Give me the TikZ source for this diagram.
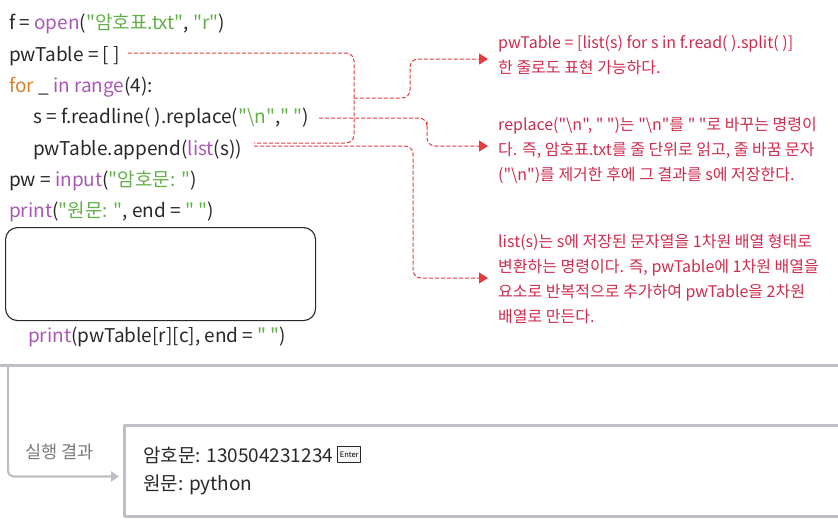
\documentclass[tikz,border=0pt]{standalone}
\usepackage{fontspec}
\setmainfont{Noto Sans CJK KR}[Ligatures=TeXOff]
\usetikzlibrary{arrows.meta,positioning}
\definecolor{codetext}{RGB}{40,40,40}
\definecolor{fncol}{RGB}{168,88,180}
\definecolor{strcol}{RGB}{98,176,72}
\definecolor{kwcol}{RGB}{214,128,48}
\definecolor{notecol}{RGB}{206,44,78}
\definecolor{dashcol}{RGB}{226,60,60}
\definecolor{rulecol}{RGB}{190,190,196}
\definecolor{runcol}{RGB}{120,120,126}
\newcommand{\pyfn}[1]{\textcolor{fncol}{#1}}
\newcommand{\pystr}[1]{\textcolor{strcol}{#1}}
\newcommand{\pykw}[1]{\textcolor{kwcol}{#1}}
\newcommand{\bsn}{\textbackslash n}
\begin{document}
\begin{tikzpicture}[x=1pt, y=-1pt, line join=round, line cap=round, font=\fontsize{19}{24}\selectfont]
	\tikzset{
		codeline/.style={anchor=base west, inner sep=0pt, text=codetext},
		note/.style={anchor=base west, inner sep=0pt, align=left, text=notecol, font=\fontsize{16}{25}\selectfont},
		dashline/.style={draw=dashcol, line width=1pt, dash pattern=on 3.5pt off 2.5pt, rounded corners=8pt},
		dasharrow/.style={dashline, -{Triangle[length=9pt,width=11pt]}},
		runline/.style={draw=rulecol, line width=2.2pt, rounded corners=6pt, -{Triangle[length=8pt,width=10pt]}},
		outbox/.style={draw=rulecol, line width=3pt, anchor=north west, minimum width=717pt, minimum height=91pt, inner sep=0pt},
		outline/.style={anchor=base west, inner sep=0pt, text=codetext, font=\fontsize{19}{22}\selectfont},
	}
	\useasboundingbox (0,0) rectangle (838,520);
	\node[codeline] (fopen) at (9,29.5) {f = \pyfn{open}(\pystr{"암호표.txt"}, \pystr{"r"})};
	\node[codeline] (pwt) at (9,61) {pwTable = [ ]};
	\node[codeline] (loop) at (9,92) {\pykw{for} \_ \pyfn{in} \pyfn{range}(4):};
	\node[codeline] (rep) at (33,123.5) {s = f.readline( ).replace(\pystr{"\bsn"},\pystr{" "})};
	\node[codeline] (app) at (33,155) {pwTable.append(\pyfn{list}(s))};
	\node[codeline] (inp) at (9,186) {pw = \pyfn{input}(\pystr{"암호문: "})};
	\node[codeline] (prt) at (9,217.5) {\pyfn{print}(\pystr{"원문: "}, end = \pystr{" "})};
	\node[draw=codetext, line width=1.1pt, rounded corners=12pt, anchor=north west, minimum width=310pt, minimum height=93pt] (blank) at (5,227) {};
	\node[codeline] (prt2) at (28,342) {\pyfn{print}(pwTable[r][c], end = \pystr{" "})};
	\node[note] (noteA) at (498,73) {pwTable = [list(s) for s in f.read( ).split( )]\\한 줄로도 표현 가능하다.};
	\node[note] (noteB) at (498,180) {replace("\bsn", " ")는 "\bsn"를 " "로 바꾸는 명령이\\다. 즉, 암호표.txt를 줄 단위로 읽고, 줄 바꿈 문자\\("\bsn")를 제거한 후에 그 결과를 s에 저장한다.};
	\node[note] (noteC) at (498,322) {list(s)는 s에 저장된 문자열을 1차원 배열 형태로\\변환하는 명령이다. 즉, pwTable에 1차원 배열을\\요소로 반복적으로 추가하여 pwTable을 2차원\\배열로 만든다.};
	\coordinate (brkmid) at (354,98);
	\draw[dashline] ([shift={(8,-8)}]pwt.base east) -| (brkmid) |- ([shift={(12,-12)}]app.base east);
	\draw[dasharrow] (brkmid) -| (410,80) |- ([shift={(-10,-14)}]noteA.base west);
	\draw[dasharrow] ([shift={(10,-5.5)}]rep.base east) -| (427,130) |- ([shift={(-10,-34)}]noteB.base west);
	\draw[dasharrow] ([shift={(12,-9)}]app.base east) -| (413,200) |- ([shift={(-10,-44)}]noteC.base west);
	\draw[rulecol, line width=3pt] (0,365) -- (838,365);
	\coordinate (runstart) at (8,365);
	\node[outbox] (result) at (123,424) {};
	\node[anchor=base west, inner sep=0pt, text=runcol, font=\fontsize{17.5}{20}\selectfont] (runlabel) at (25,458) {실행 결과};
	\draw[runline] (runstart) |- ([xshift=-4pt,yshift=-5.5pt]result.west);
	\node[outline] (out1) at (143,462) {암호문: 130504231234};
	\node[draw=codetext, fill=black!4, line width=0.8pt, inner sep=1pt, font=\fontsize{7.5}{8}\selectfont, minimum width=23pt, minimum height=16pt, right=4pt of out1] (enter) {Enter};
	\node[outline] (out2) at (143,490) {원문: python};
\end{tikzpicture}
\end{document}
